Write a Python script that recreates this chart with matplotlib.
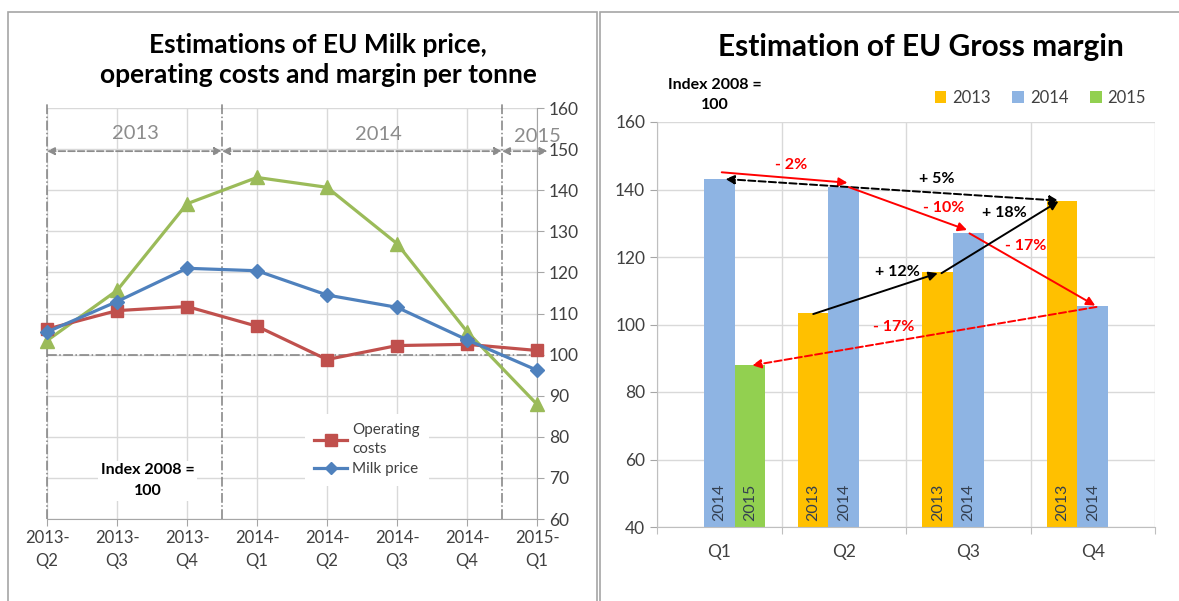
import numpy as np
import matplotlib
matplotlib.use('Agg')
import matplotlib.pyplot as plt
from matplotlib.patches import Rectangle
from matplotlib.lines import Line2D

plt.rcParams['font.family'] = ['Lato', 'DejaVu Sans']

# left chart data
periods = ['2013-\nQ2', '2013-\nQ3', '2013-\nQ4', '2014-\nQ1',
           '2014-\nQ2', '2014-\nQ3', '2014-\nQ4', '2015-\nQ1']
operating_costs = [106.2, 110.7, 111.7, 106.9, 98.8, 102.2, 102.5, 101.0]
milk_price = [105.5, 112.9, 121.0, 120.4, 114.5, 111.5, 103.6, 96.2]
margin = [103.4, 115.6, 136.7, 143.1, 140.7, 127.0, 105.6, 87.9]
year_labels = ['2013', '2014', '2015']
year_starts = [0, 2.5, 6.5]
year_ends = [2.5, 6.5, 7.15]

# right chart data
quarters = ['Q1', 'Q2', 'Q3', 'Q4']
years = ['2013', '2014', '2015']
margin_2013 = [np.nan, 103.4, 115.6, 136.7]
margin_2014 = [143.1, 140.7, 127.0, 105.6]
margin_2015 = [87.9, np.nan, np.nan, np.nan]

RED = '#C0504D'
BLUE = '#4F81BD'
GREEN = '#9BBB59'
C2013 = '#FFC000'
C2014 = '#8EB4E3'
C2015 = '#92D050'
GRID = '#D9D9D9'
TXT = '#404040'

fig = plt.figure(figsize=(11.79, 6.01), dpi=100)

# panel frames
W, H = 1179, 601
fig.patches.append(Rectangle((8 / W, -0.05), 589 / W, 1 - 12 / H + 0.05,
                             transform=fig.transFigure, fill=False,
                             edgecolor='#A6A6A6', lw=1.2))
fig.patches.append(Rectangle((600 / W, -0.05), 0.6, 1 - 12 / H + 0.05,
                             transform=fig.transFigure, fill=False,
                             edgecolor='#A6A6A6', lw=1.2))

# ---------------- left chart ----------------
ax = fig.add_axes([47 / W, 1 - 519 / H, 490 / W, 411 / H])
x = np.arange(len(periods))
ax.set_xlim(0, 7)
ax.set_ylim(60, 160)
ax.set_yticks(range(60, 161, 10))
ax.yaxis.tick_right()
ax.set_xticks(x)
ax.set_xticklabels(periods, fontsize=12, color=TXT, linespacing=1.5)
ax.tick_params(axis='y', labelsize=12.5, colors='#A6A6A6', length=5, direction='out')
ax.tick_params(axis='x', length=5, direction='out', colors='#A6A6A6', pad=3)
for t in ax.get_xticklabels():
    t.set_color(TXT)
for t in ax.get_yticklabels():
    t.set_color(TXT)
ax.grid(True, color=GRID, lw=1)
ax.set_axisbelow(True)
for s in ['top', 'left']:
    ax.spines[s].set_visible(False)
for s in ['right', 'bottom']:
    ax.spines[s].set_color('#A6A6A6')

# dash-dot reference lines
ax.axhline(100, color='#808080', lw=1.1, ls='-.')
for xv in year_starts:
    ax.plot([xv, xv], [60, 161], color='#808080', lw=1.1, ls='-.', clip_on=False)

# year ranges
for lab, xs, xe in zip(year_labels, year_starts, year_ends):
    ax.annotate('', xy=(xe, 149.5), xytext=(xs, 149.5), annotation_clip=False,
                arrowprops=dict(arrowstyle='<|-|>', color='#8C8C8C', lw=1.3,
                                ls='--', mutation_scale=11, shrinkA=0, shrinkB=0))
ax.text(1.26, 153.8, year_labels[0], color='#8C8C8C', fontsize=14.5, ha='center', va='center')
ax.text(4.73, 153.5, year_labels[1], color='#8C8C8C', fontsize=14.5, ha='center', va='center')
ax.text(7.0, 153.0, year_labels[2], color='#8C8C8C', fontsize=14.5, ha='center', va='center')

ax.plot(x, margin, color=GREEN, lw=2.3, marker='^', ms=10, clip_on=False, zorder=3)
ax.plot(x, operating_costs, color=RED, lw=2.3, marker='s', ms=8.5, clip_on=False, zorder=4)
ax.plot(x, milk_price, color=BLUE, lw=2.3, marker='D', ms=7, clip_on=False, zorder=5)

handles = [Line2D([], [], color=RED, lw=2.3, marker='s', ms=8.5),
           Line2D([], [], color=BLUE, lw=2.3, marker='D', ms=6)]
leg = ax.legend(handles, ['Operating\ncosts', 'Milk price'], loc='upper left',
                bbox_to_anchor=(0.51, 0.275), fontsize=11, frameon=True,
                facecolor='white', edgecolor='none', framealpha=1,
                handlelength=2.2, handletextpad=0.3, labelspacing=0.4,
                borderpad=0.6, fancybox=False)
for t in leg.get_texts():
    t.set_color(TXT)
    t.set_linespacing(1.5)

ax.text(1.44, 69.3, 'Index 2008 =\n100', fontsize=11.5, fontweight='bold',
        ha='center', va='center', linespacing=1.6,
        bbox=dict(facecolor='white', edgecolor='none', pad=2))

fig.text(318 / W, 1 - 60 / H, 'Estimations of EU Milk price,\noperating costs and margin per tonne',
         fontsize=19, fontweight='bold', ha='center', va='center', linespacing=1.3)

# ---------------- right chart ----------------
bx = fig.add_axes([657 / W, 1 - 527 / H, 498 / W, 405 / H])
q = np.arange(len(quarters))
w = 0.245
series = [margin_2013, margin_2014, margin_2015]
colors = [C2013, C2014, C2015]
offsets = [-w, 0, w]
for yr, vals, col, off in zip(years, series, colors, offsets):
    bx.bar(q + off, np.array(vals) - 40, bottom=40, width=w, color=col, label=yr, zorder=2)
    for qi, v in zip(q, vals):
        if not np.isnan(v):
            bx.text(qi + off, 41.8, yr, rotation=90, ha='center', va='bottom',
                    fontsize=11.5, color='#333F50', zorder=3)

bx.set_xlim(-0.5, 3.5)
bx.set_ylim(40, 160)
bx.set_yticks(range(40, 161, 20))
bx.set_xticks(np.arange(-0.5, 3.6, 1))
bx.set_xticklabels([])
bx.set_xticks(q, minor=True)
bx.set_xticklabels(quarters, minor=True, fontsize=12.5, color=TXT)
bx.tick_params(axis='x', which='minor', length=0, pad=12)
bx.tick_params(axis='x', which='major', length=5, colors='#BFBFBF')
bx.tick_params(axis='y', length=5, labelsize=12.5, colors='#A6A6A6')
for t in bx.get_yticklabels():
    t.set_color(TXT)
bx.grid(True, which='major', color=GRID, lw=1)
bx.set_axisbelow(True)
for s in ['top', 'right']:
    bx.spines[s].set_visible(False)
for s in ['left', 'bottom']:
    bx.spines[s].set_color('#BFBFBF')


def arrow(x0, y0, x1, y1, col, style='-|>', ls='-'):
    bx.annotate('', xy=(x1, y1), xytext=(x0, y0), zorder=5,
                arrowprops=dict(arrowstyle=style, color=col, lw=1.4, ls=ls,
                                mutation_scale=13, shrinkA=0, shrinkB=0))


arrow(0.02, margin_2014[0] + 2, 1.03, margin_2014[1] + 1.3, 'red')
arrow(0.05, margin_2014[0], 2.755 - 0.03, margin_2013[3], 'black', style='<|-|>', ls='--')
arrow(1.04, margin_2014[1], 1.99, margin_2014[2] + 1, 'red')
arrow(2.01, margin_2014[2], 3.02, margin_2014[3], 'red')
arrow(1 - w, margin_2013[1] - 0.3, 2 - w, margin_2013[2] - 0.4, 'black')
arrow(2 - w + 0.03, margin_2013[2] - 0.4, 3 - w - 0.03, margin_2013[3] - 0.2, 'black')
arrow(3.03, margin_2014[3] - 0.4, w + 0.02, margin_2015[0], 'red', ls='--')

lab = dict(fontsize=11.5, fontweight='bold', ha='center', va='center', zorder=6)
bx.text(0.58, 147.2, '- 2%', color='red', **lab)
bx.text(1.75, 143.0, '+ 5%', color='black', **lab)
bx.text(1.80, 134.4, '- 10%', color='red', **lab)
bx.text(2.46, 123.3, '- 17%', color='red', **lab)
bx.text(1.43, 115.5, '+ 12%', color='black', **lab)
bx.text(2.29, 132.9, '+ 18%', color='black', **lab)
bx.text(1.40, 99.3, '- 17%', color='red', **lab)

rl = bx.legend(loc='center', bbox_to_anchor=(0.77, 1.06), ncol=3, frameon=False,
               fontsize=12, handlelength=0.7, handleheight=0.7,
               handletextpad=0.35, columnspacing=1.3)
for t in rl.get_texts():
    t.set_color(TXT)

fig.text(715 / W, 1 - 95 / H, 'Index 2008 =\n100', fontsize=11.5, fontweight='bold',
         ha='center', va='center', linespacing=1.6)
fig.text(921 / W, 1 - 47 / H, 'Estimation of EU Gross margin', fontsize=21.5,
         fontweight='bold', ha='center', va='center')

fig.savefig('out.png', dpi=100)
